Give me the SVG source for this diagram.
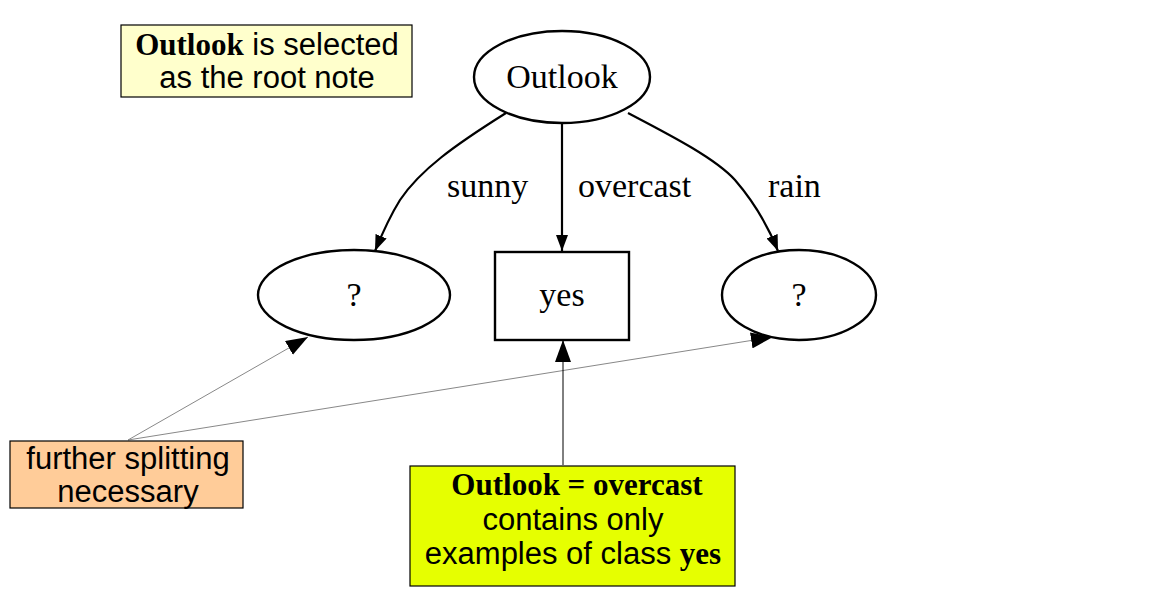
<svg xmlns="http://www.w3.org/2000/svg" width="1170" height="611" viewBox="0 0 1170 611">
<style>
.node{fill:#fff;stroke:#000;stroke-width:2.4}
.edge{fill:none;stroke:#000;stroke-width:2.2}
.serif{font-family:"Liberation Serif","Times New Roman",serif;font-size:34px;fill:#000}
.sans{font-family:"Liberation Sans",Arial,sans-serif;font-size:31px;fill:#000}
.b{font-family:"Liberation Serif","Times New Roman",serif;font-weight:bold}
.note{stroke:#000;stroke-width:1.2}
.thin{fill:none;stroke:#888;stroke-width:1}
.thinb{fill:none;stroke:#000;stroke-width:1}
</style>
<defs>
<marker id="ah" markerWidth="16" markerHeight="12" refX="16" refY="6" orient="auto" markerUnits="userSpaceOnUse" viewBox="0 0 16 12">
<path d="M0,0 L16,6 L0,12 z" fill="#000"/>
</marker>
<marker id="ah2" markerWidth="22" markerHeight="16" refX="22" refY="8" orient="auto" markerUnits="userSpaceOnUse" viewBox="0 0 22 16">
<path d="M0,0 L22,8 L0,16 z" fill="#000"/>
</marker>
</defs>
<rect width="1170" height="611" fill="#fff"/>
<g id="connectors">
<path class="edge" d="M506,113 C455,145 420,170 400,200 C390,216 382,234 375,251" marker-end="url(#ah)"/>
<path class="edge" d="M562,124 L562,251" marker-end="url(#ah)"/>
<path class="edge" d="M628,113 C670,135 715,158 735,180 C754,202 768,226 778,251" marker-end="url(#ah)"/>
<text class="serif" x="447" y="197">sunny</text>
<text class="serif" x="578" y="197">overcast</text>
<text class="serif" x="768" y="197">rain</text>
<line class="thin" x1="128" y1="440" x2="308" y2="337" marker-end="url(#ah2)"/>
<line class="thin" x1="128" y1="440" x2="773" y2="337" marker-end="url(#ah2)"/>
<line class="thinb" x1="563" y1="465" x2="563" y2="340" marker-end="url(#ah2)"/>
</g>
<g id="n-outlook">
<ellipse class="node" cx="562" cy="77" rx="88" ry="46"/>
<text class="serif" x="562" y="88" text-anchor="middle">Outlook</text>
</g>
<g id="n-sunny">
<ellipse class="node" cx="354" cy="295" rx="96" ry="45"/>
<text class="serif" x="354" y="306" text-anchor="middle">?</text>
</g>
<g id="n-yes">
<rect class="node" x="495" y="252" width="134" height="88"/>
<text class="serif" x="562" y="306" text-anchor="middle">yes</text>
</g>
<g id="n-rain">
<ellipse class="node" cx="799" cy="295" rx="77" ry="45"/>
<text class="serif" x="799" y="306" text-anchor="middle">?</text>
</g>
<g id="note-root">
<rect class="note" x="121" y="25" width="291" height="72" fill="#ffffcc"/>
<text class="sans" x="267" y="55" text-anchor="middle"><tspan class="b">Outlook</tspan> is selected</text>
<text class="sans" x="267" y="88" text-anchor="middle">as the root note</text>
</g>
<g id="note-split">
<rect class="note" x="10" y="441" width="233" height="67" fill="#ffcc99"/>
<text class="sans" x="128" y="469" text-anchor="middle">further splitting</text>
<text class="sans" x="128" y="502" text-anchor="middle">necessary</text>
</g>
<g id="note-overcast">
<rect class="note" x="410" y="466" width="325" height="120" fill="#e6ff00"/>
<text class="sans" x="577" y="495" text-anchor="middle"><tspan class="b">Outlook = overcast</tspan></text>
<text class="sans" x="573" y="530" text-anchor="middle">contains only</text>
<text class="sans" x="573" y="564" text-anchor="middle">examples of class <tspan class="b">yes</tspan></text>
</g>
</svg>
